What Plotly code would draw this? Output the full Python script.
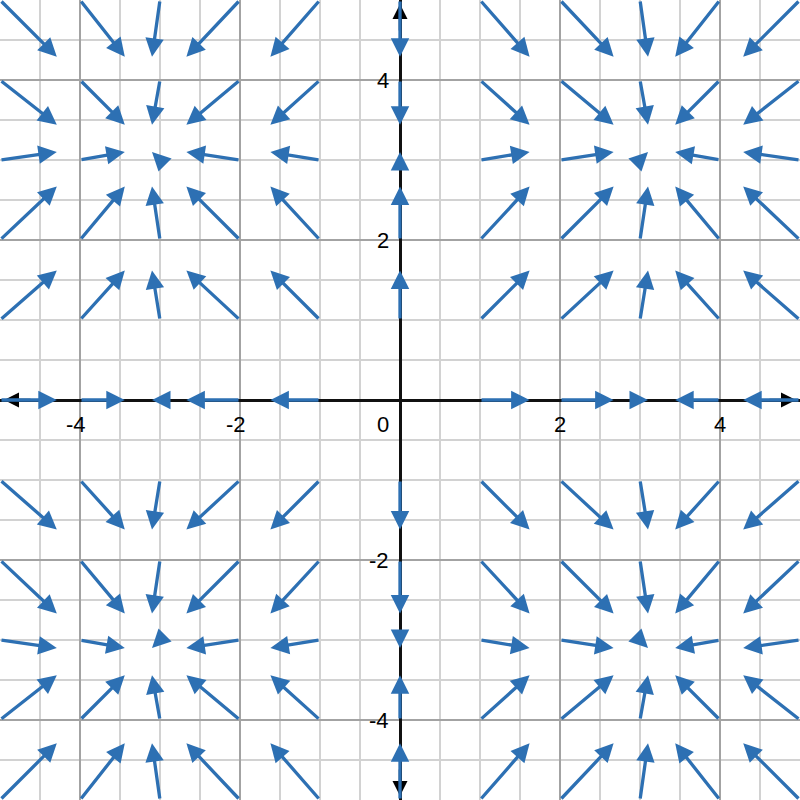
import plotly.graph_objects as go

# grid sample positions
grid_x = [-5, -4, -3, -2, -1, 0, 1, 2, 3, 4, 5]
grid_y = [-5, -4, -3, -2, -1, 0, 1, 2, 3, 4, 5]
# horizontal component of the arrow at each x (data units)
u_by_x = [0.71, 0.56, -0.10, -0.67, -0.62, 0.0, 0.62, 0.67, 0.10, -0.56, -0.71]
# vertical component of the arrow at each y (data units)
v_by_y = [0.71, 0.56, -0.10, -0.67, -0.62, 0.0, 0.62, 0.67, 0.10, -0.56, -0.71]

x_tick_vals = [-4, -2, 2, 4]
x_tick_text = ["-4", "-2", "2", "4"]
y_tick_vals = [-4, -2, 2, 4]
y_tick_text = ["-4", "-2", "2", "4"]
origin_text = "0"

BLUE = "#2d70b3"
FONT = "Arial, Liberation Sans, sans-serif"

fig = go.Figure()
fig.add_trace(go.Scatter(x=[-5, 5], y=[-5, 5], mode="markers",
                         marker=dict(opacity=0), hoverinfo="skip", showlegend=False))

annotations = []
# black axis arrowheads
for (tx, ty, bx, by) in [(-4.95, 0, -4.6, 0), (4.95, 0, 4.6, 0), (0, 4.95, 0, 4.6), (0, -4.95, 0, -4.6)]:
    annotations.append(dict(x=tx, y=ty, ax=bx, ay=by, xref="x", yref="y", axref="x", ayref="y",
                            text="", showarrow=True, arrowhead=2, arrowsize=1.2, arrowwidth=2.5,
                            arrowcolor="#000000", standoff=0))

# vector field arrows
for i, gx in enumerate(grid_x):
    for j, gy in enumerate(grid_y):
        u = u_by_x[i]
        v = v_by_y[j]
        if u == 0 and v == 0:
            continue
        annotations.append(dict(x=gx + u, y=gy + v, ax=gx, ay=gy, xref="x", yref="y",
                                axref="x", ayref="y", text="", showarrow=True,
                                arrowhead=2, arrowsize=1.12, arrowwidth=3.3,
                                arrowcolor=BLUE, standoff=0))

# tick labels near the axes
for val, txt in zip(x_tick_vals, x_tick_text):
    annotations.append(dict(x=val, y=0, xref="x", yref="y", text=txt, showarrow=False,
                            xanchor="center", yanchor="top", yshift=-10,
                            xshift=-4 if val < 0 else 0,
                            font=dict(family=FONT, size=22, color="#000000")))
for val, txt in zip(y_tick_vals, y_tick_text):
    annotations.append(dict(x=0, y=val, xref="x", yref="y", text=txt, showarrow=False,
                            xanchor="right", yanchor="middle", xshift=-9,
                            font=dict(family=FONT, size=22, color="#000000")))
annotations.append(dict(x=0, y=0, xref="x", yref="y", text=origin_text, showarrow=False,
                        xanchor="right", yanchor="top", xshift=-9, yshift=-10,
                        font=dict(family=FONT, size=22, color="#000000")))

axis_common = dict(range=[-5, 5], showticklabels=False, ticks="", showline=False,
                   dtick=2, tick0=0, showgrid=True, gridcolor="#a3a3a3", gridwidth=1.5,
                   zeroline=True, zerolinecolor="#111111", zerolinewidth=2.5,
                   minor=dict(dtick=0.5, tick0=0, showgrid=True, gridcolor="#d2d2d2", gridwidth=1.5),
                   fixedrange=True)

fig.update_layout(width=800, height=800, margin=dict(l=0, r=0, t=0, b=0),
                  plot_bgcolor="white", paper_bgcolor="white",
                  xaxis=axis_common, yaxis=axis_common,
                  annotations=annotations, showlegend=False)

fig.write_html("out.html", config={"displayModeBar": False},
               post_script="document.body.style.margin='0';")
